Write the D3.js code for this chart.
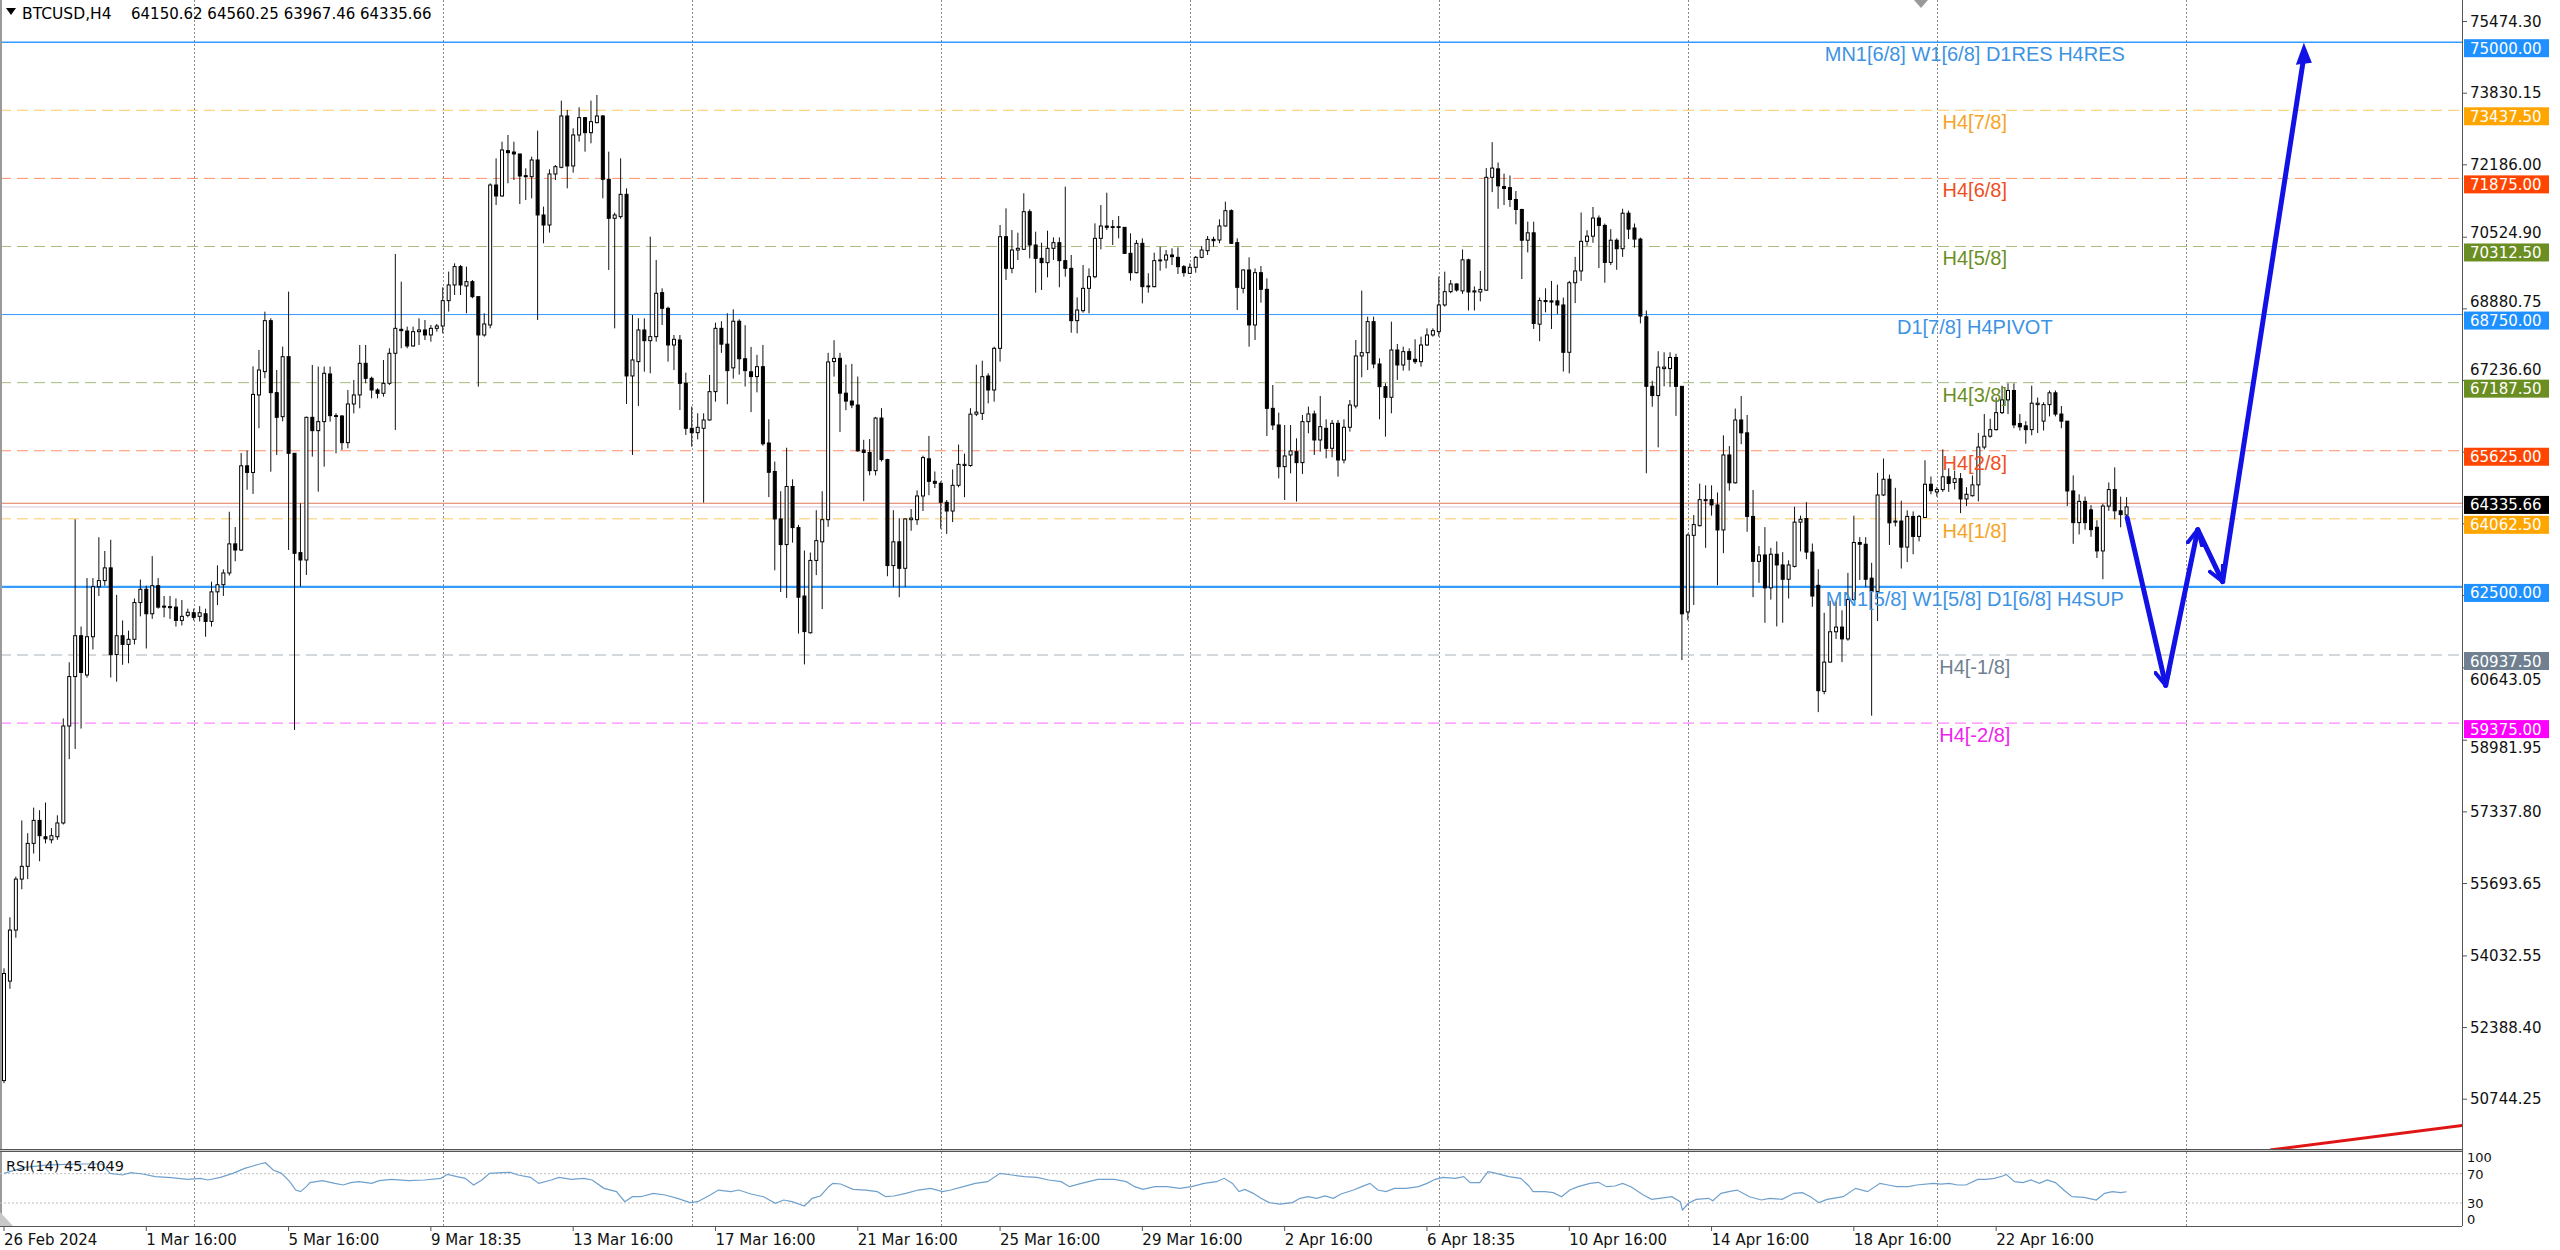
<!DOCTYPE html>
<html><head><meta charset="utf-8">
<script src="https://cdn.jsdelivr.net/npm/d3@7"></script>
<style>html,body{margin:0;padding:0;background:#fff;overflow:hidden}</style>
</head><body>
<svg id="c" width="2560" height="1250"></svg>
<script>
// ---------- DATA ----------
const symbolTitle = "BTCUSD,H4";
const headerValues = ["64150.62","64560.25","63967.46","64335.66"];
const opens = [
51171,53454,54625,55795,56088,56615,57142,56767,56697,56767,
57083,59308,60443,61380,60479,61357,62504,62645,62937,60947,
61380,61181,61298,62141,62446,61884,62528,62059,62024,62036,
61731,61848,61907,61825,61884,61708,62387,62551,62820,63488,
63347,65279,65127,66905,67440,68610,66958,66407,67784,65566,
63287,63118,66392,66086,66293,67387,66430,66422,65811,66698,
66905,67631,67287,67019,66943,67172,67861,68412,68373,68029,
68358,68396,68282,68434,68488,69069,69429,69850,69406,69505,
69161,68282,68511,71723,71471,72511,72480,72435,71937,71914,
72297,71035,70805,71976,72129,73307,72160,72871,73269,72924,
73154,73307,71854,70959,70997,71509,67341,67670,68396,68151,
68243,69253,68893,68052,68167,67172,66140,66040,66140,66331,
66981,68434,68071,67527,68597,67736,67436,67327,67554,65803,
65149,64060,63471,64805,63861,62291,61448,63108,63535,64043,
67672,67745,66946,66765,66674,65640,65585,65168,66375,65422,
62990,63535,62927,64043,64043,64587,65440,64923,64878,64442,
64242,64832,65286,65286,66465,66483,67340,67019,67975,70537,
69811,70231,70247,71111,70346,70040,69941,70270,70400,69987,
69811,68610,68839,69352,69619,70499,70782,70767,70751,70751,
70155,69711,70384,69390,69390,69987,70002,70117,70063,69849,
69696,69834,70063,70216,70476,70461,70783,71134,70400,69352,
69773,68511,69711,69329,66598,66216,65260,65528,65604,65352,
66293,66469,65872,66140,65681,66254,65413,66163,66652,67800,
67876,68587,67616,67096,66851,67937,67593,67899,67723,67669,
68052,68281,68358,68970,69276,69452,69293,70006,69268,69268,
69310,71899,72094,71687,71662,71390,71161,70456,70626,68529,
69072,69064,69064,68970,67884,69480,69751,70431,70549,70965,
70796,69947,70456,70261,71076,70736,70482,68699,67103,66891,
67510,67510,67765,67103,61925,63684,63905,64479,64503,64381,
63807,65528,64889,66331,66036,64118,63086,63233,62479,63250,
63004,62676,62971,63987,64069,63299,62537,60103,60775,61471,
61578,61307,62209,63520,63479,62701,62397,64610,64971,63987,
64012,63414,64118,63659,64094,64856,64680,64734,65027,64897,
64983,64518,64593,64842,65709,65958,66109,66499,66792,67008,
66250,66196,66109,66683,66304,66683,66954,66467,66304,64702,
63976,64463,64268,63868,63326,64355,64734,64247,64150.62];
const highs = [
53747,54917,55854,57142,56849,57435,57376,57552,56966,57259,
59483,60771,64050,61591,62703,62703,63640,63324,63581,62317,
61731,61497,62235,62668,62528,63207,62703,62293,62293,62235,
62200,62001,62001,62059,62001,62621,62996,62902,64225,63874,
65572,65630,67562,67937,68817,68664,67478,68014,69276,65566,
64419,66407,67593,67555,67555,67555,66484,66445,67019,67249,
68052,68052,67325,67058,67708,67976,70140,69505,68473,68473,
68664,68626,68511,68534,69375,69735,69926,69888,69850,69544,
69161,68779,71762,72335,72718,72871,72718,72435,72106,72374,
72970,71226,72083,72182,73659,73445,73024,73506,73269,73659,
73789,73330,72488,71089,72335,71647,68740,68664,68664,70538,
70003,69352,68932,68281,68281,67417,66637,66484,66484,67364,
68564,68597,68779,68870,68643,68507,68008,67826,68053,66347,
65376,64696,65694,64968,63925,63335,63290,64260,64696,67872,
68162,67872,67600,67618,67327,65876,65894,66402,66602,65440,
64260,64079,64079,64288,64714,65513,65966,65149,64923,64496,
65195,65767,65558,66602,67600,67692,67401,68013,70805,71187,
70690,70629,71532,71164,70652,70400,70675,70522,70522,71685,
70117,69145,69887,69811,70843,71264,71547,70920,71011,70751,
70614,70461,70499,69696,70170,70308,70231,70270,70292,69887,
69925,70094,70323,70553,70537,70936,71341,71165,70500,69788,
70063,69810,69864,69581,67133,66499,66216,66216,65910,66446,
66637,66545,66882,66346,66331,66331,66346,66790,68167,69299,
68702,68702,67746,67172,68587,68075,68014,67975,68182,68243,
68434,68434,69620,69735,69543,69467,70244,70032,69395,69751,
72111,72706,72239,71984,71942,71585,71178,70881,70881,69140,
69353,69522,69437,69140,69522,70074,71093,70685,71220,71025,
70838,70711,70499,71178,71135,70838,70515,68843,67230,67909,
67884,67884,67850,67103,63724,64151,64872,64831,64831,64667,
65979,65733,66593,66880,66446,64725,63438,63872,63397,63545,
63299,63110,64340,64135,64446,63495,62905,61906,62184,62168,
61963,62823,64135,63643,63643,63053,65118,65446,65077,64774,
64479,64258,64233,64151,65405,65036,64788,65655,65221,65167,
65113,64788,65059,66034,66467,66359,66846,67117,67171,67171,
66467,66304,67117,66846,66738,67008,67008,66651,66304,65059,
64626,64572,64377,64030,64409,64897,65243,64572,64560.25];
const lows = [
51112,53278,54449,55561,55795,56381,56205,56615,56615,56697,
57048,58547,58781,59249,60420,61064,62293,62528,60420,60326,
60713,60748,61181,61825,61087,61766,62001,61802,61766,61591,
61614,61802,61731,61708,61357,61591,62083,62293,62762,63090,
63324,64729,64635,66140,67287,65145,65528,66300,63348,59217,
62506,62774,65490,64686,65260,66293,65566,65643,65681,66484,
66599,67172,66828,66828,66866,67134,66102,67976,67976,68014,
68052,68167,68128,68358,68320,68817,69199,69199,68779,69123,
67096,68243,68434,71264,71456,71762,71838,71287,71379,71417,
68625,70385,70630,71838,72106,71647,72007,72718,72488,72680,
73139,71417,69773,68434,70950,66698,65528,66652,67440,67402,
68128,68511,67670,67478,66560,65987,65719,65887,64434,66316,
66752,67871,66692,67282,67373,67100,66511,66964,65739,64560,
62881,62382,62246,63516,61429,60722,61429,62772,61992,63879,
67327,66057,66556,66602,65603,64469,65059,65059,65377,62745,
62500,62264,62500,63789,63925,64242,64605,64769,63834,63716,
63988,64787,64560,65259,66420,66330,66713,66751,67669,69543,
69696,70002,70231,70040,69252,69313,69604,70002,69375,69619,
68334,68319,68793,68778,69581,70247,70690,70346,70499,70140,
69528,69696,69007,69252,69375,69757,69811,69887,69681,69619,
69681,69711,70040,70117,70308,70385,70767,70370,68855,69237,
68013,68166,69023,65963,66101,64992,64495,65107,64457,65092,
66025,65528,65604,65451,65474,65031,65337,66063,66598,67310,
67478,67516,66346,65948,66484,67249,67463,67463,67616,67555,
68029,68243,68243,68932,69238,69276,69225,68843,68843,69055,
69293,71560,71178,71263,71220,70821,69565,70176,68419,68139,
68801,68419,68758,67442,67400,69013,69522,70329,70397,69819,
69480,69887,69777,70074,70482,70286,68546,65108,66636,65702,
67103,67086,66424,60821,61738,62086,63889,63397,64135,62537,
63274,64708,64872,65774,63766,62266,62594,61676,62209,61594,
61676,62233,62946,63315,63135,62045,59627,60037,60759,61307,
60775,61266,62184,62660,62496,59545,61717,64585,63463,63889,
62922,63069,63250,63545,64094,64626,64572,64680,64680,64734,
64193,64355,64572,64463,65655,65925,66088,66467,66467,66142,
66088,65785,65979,66034,66088,66413,66413,66142,64355,63489,
63705,63814,63651,63164,62677,64247,64052,63868,63967.46];
const closes = [
53629,54625,55795,56088,56615,57142,56791,56720,56791,57083,
59308,60443,61380,60537,61357,62504,62645,62937,60947,61380,
61181,61298,62141,62446,61884,62528,62036,62036,62048,61731,
61825,61919,61802,61907,61708,62387,62551,62820,63488,63347,
65279,65127,66918,67478,68610,66958,66392,67784,65566,63271,
63118,66392,66086,66293,67402,66430,66415,65811,66698,66905,
67631,67287,67019,66943,67172,67861,68434,68381,68029,68358,
68396,68282,68434,68488,69069,69429,69850,69429,69505,69161,
68282,68534,71723,71471,72527,72465,72435,71930,71914,72297,
71035,70805,71976,72144,73307,72160,72871,73269,72924,73177,
73307,71854,70959,71035,71509,67341,67708,68396,68151,68243,
69238,68893,68052,68182,67172,66140,66040,66163,66331,66981,
68434,68071,67463,68597,67736,67463,67327,67554,65785,65131,
64060,63471,64805,63861,62264,61475,63108,63562,64043,67663,
67745,66946,66765,66674,65622,65585,65168,66375,65422,62990,
63535,62927,64060,64079,64587,65467,64923,64878,64442,64242,
64832,65313,65313,66465,66511,67325,67019,67975,70537,69811,
70231,70270,71111,70346,70040,69941,70270,70400,69987,69811,
68610,68854,69352,69619,70499,70782,70751,70751,70767,70155,
69711,70384,69390,69406,69987,70002,70117,70078,69849,69711,
69834,70063,70231,70476,70445,70783,71134,70385,69375,69773,
68511,69711,69329,66598,66216,65260,65505,65620,65352,66293,
66469,65872,66178,65681,66254,65413,66163,66675,67800,67876,
68587,67616,67096,66851,67937,67593,67899,67723,67669,68052,
68281,68381,68970,69276,69452,69314,70006,69268,69293,69327,
71899,72111,71704,71645,71390,71161,70456,70626,68546,69072,
69047,69038,68970,67884,69480,69751,70431,70549,70965,70796,
69947,70456,70261,71076,70711,70482,68716,67103,66891,67544,
67544,67765,67103,61882,63690,63930,64503,64503,64381,63807,
65528,64889,66331,66036,64118,63086,63233,62479,63250,63004,
62676,63004,63987,64053,63299,62291,60119,60775,61471,61578,
61307,62209,63520,63479,62676,62397,64610,64971,63971,64012,
63414,64118,63659,64118,64856,64708,64734,65027,64875,64983,
64518,64626,64842,65709,65958,66109,66499,66792,67008,66218,
66174,66109,66716,66716,66683,66954,66467,66304,64702,63976,
64463,63976,63814,63326,64355,64734,64247,64160,64335.66];

// Murrey-style levels
const levelPrices = [75000, 73437.5, 71875, 70312.5, 68750, 67187.5, 65625, 64062.5, 62500, 60937.5, 59375];
const levelNames = ["MN1[6/8] W1[6/8] D1RES H4RES","H4[7/8]","H4[6/8]","H4[5/8]","D1[7/8] H4PIVOT","H4[3/8]","H4[2/8]","H4[1/8]","MN1[5/8] W1[5/8] D1[6/8] H4SUP","H4[-1/8]","H4[-2/8]"];
const levelLabelBar = 332.4;
const bidPrice = 64335.66;
const askPrice = 64420;

// price axis tick labels
const priceTicks = [75474.30,73830.15,72186.00,70524.90,68880.75,67236.60,65592.45,63948.30,62304.15,60643.05,58981.95,57337.80,55693.65,54032.55,52388.40,50744.25];

// time axis
const timeLabelBars = [0,24,48,72,96,120,144,168,192,216,240,264,288,312,336];
const timeLabels = ["26 Feb 2024","1 Mar 16:00","5 Mar 16:00","9 Mar 18:35","13 Mar 16:00","17 Mar 16:00","21 Mar 16:00","25 Mar 16:00","29 Mar 16:00","2 Apr 16:00","6 Apr 18:35","10 Apr 16:00","14 Apr 16:00","18 Apr 16:00","22 Apr 16:00"];
const gridBars = [32,74,116,158,200,242,284,326,368];

// forecast arrow (bar index, price)
const arrowBars = [358.1, 364.6, 370.0, 374.2, 387.9];
const arrowPrices = [64082, 60241, 63813, 62622, 74990];

// red trendline (bar index, price)
const trendBars = [382.2, 414.6];
const trendPrices = [49579, 50139];

// RSI(14) readings
const rsiLast = "45.4049";
const rsiLevels = [70, 30];
const rsiAxisLabels = ["100","70","30","0"];
const rsiBars = [0,3.4,7.6,13.1,16.5,17.9,20,21.4,23.4,25.5,28.2,31,33.1,34.4,36.5,38.6,39.3,40.6,42,43.1,44.1,45.4,46.8,48.2,49.2,50,51,51.6,53.7,55.8,57.2,58.5,59.9,62,63.3,65.4,68.2,70.9,73.7,74.8,76.4,77.8,79.2,80.6,81.9,84,85.4,86.7,88.8,90.2,92.3,93.6,95.7,97.8,99.2,101.2,103.3,104.7,106,107.4,109.5,111.5,113.6,115.7,117,119.1,120.5,122.6,123.9,126,128.1,130.1,131.5,132.9,135,136.3,137.7,139.1,139.8,141.1,143.2,145.3,147.3,148.7,150.1,152.1,154.2,156.3,158.3,159.7,161.8,163.8,165.9,168,170,172.1,174.2,176.2,178.3,179.7,181.7,184.5,187.3,189.3,190.7,192.1,194.1,196.2,198.3,200.3,202.4,204.5,205.8,207.2,208.3,209.3,210.7,212,213.4,215.2,217.3,218.6,220,221.4,222.8,224.2,225.5,227.6,229,230.4,231.7,233.1,234.5,236.5,238.6,240,241.4,242.7,244.8,246.2,247.3,248.9,250.3,251.7,253.8,255.8,257.2,257.9,259.9,261.3,262.7,264.1,265.5,267.5,268.9,270.3,271.7,273,274.4,276.5,277.9,279.2,281.3,282.7,283.1,284.1,285.4,287.5,288.2,289.6,290.9,292.3,294.4,296.4,297.8,299.9,301.9,303.3,304.7,306.1,307.5,310.2,312.3,314.3,316.4,317.8,319.2,321.2,322.6,325.4,326.7,328.1,329.5,330.9,332.9,334.3,335.7,337.1,337.7,339.1,340.5,341.9,343.3,344.6,346,347.4,348.8,350.8,352.9,354.3,355.6,357,358];
const rsiValues = [70.5,78.7,81.9,83.2,83.2,70.5,68.2,71.4,69.6,66.0,64.6,62.3,63.7,61.4,65.0,70.5,72.8,77.3,80.5,83.2,85.0,75.0,70.5,59.1,47.7,45.5,52.3,57.8,60.5,56.8,54.6,57.8,59.1,56.8,60.5,62.3,60.5,61.4,63.7,69.1,66.0,63.7,54.6,61.4,70.5,71.4,71.8,68.2,65.0,56.8,61.4,65.0,62.3,63.7,61.4,50.0,45.5,31.8,38.6,38.6,43.2,40.9,36.4,30.5,31.8,40.9,47.7,45.5,47.7,42.3,38.6,29.5,34.1,31.8,25.9,36.4,39.6,52.3,56.8,55.9,48.6,47.7,45.5,38.6,39.6,43.2,47.7,50.0,45.5,47.7,52.3,56.8,59.1,70.5,68.2,66.0,65.0,61.4,59.1,52.3,56.8,62.3,62.3,59.1,52.3,48.6,52.3,52.3,50.0,52.3,56.8,59.1,63.7,56.8,45.5,48.6,43.2,36.4,30.5,28.6,30.5,36.4,38.6,36.4,39.6,36.4,42.3,47.7,52.3,56.8,47.7,45.5,50.0,50.0,52.3,56.8,62.3,65.0,63.7,66.0,57.8,57.8,72.8,70.5,66.0,63.7,53.2,45.5,45.5,44.1,38.6,47.7,52.3,56.8,58.2,52.3,53.2,56.8,52.3,40.9,35.0,36.4,38.6,31.8,20.5,29.6,35.0,36.4,33.2,43.2,45.5,47.7,38.6,34.1,36.4,35.0,43.2,44.1,38.6,30.5,35.0,38.6,50.0,45.5,56.8,54.6,52.3,52.3,54.6,56.8,55.9,56.8,54.6,54.6,62.3,62.3,63.7,66.8,69.1,59.1,57.8,61.4,56.8,61.4,57.8,47.7,38.6,37.7,34.1,43.2,45.5,44.1,45.4];

// ---------- STYLE / LAYOUT ----------
const W = 2560, H = 1250;
const PL = 0, PR = 2462, PT = 0, PB = 1149;
const RT = 1152, RB = 1226;
const FONT = "'DejaVu Sans', Verdana, sans-serif";
const LFONT = "'Liberation Sans', Arial, sans-serif";
const levelStyle = [
  {c:"#1E90FF", t:"#3D93E3", w:1.6, dash:null},
  {c:"#FFA500", t:"#F5A425", w:1, dash:"11,6"},
  {c:"#FF4500", t:"#F04E1E", w:1, dash:"11,6"},
  {c:"#6B8E23", t:"#6B8E23", w:1, dash:"11,6"},
  {c:"#1E90FF", t:"#3D93E3", w:1, dash:null},
  {c:"#6B8E23", t:"#6B8E23", w:1, dash:"11,6"},
  {c:"#FF4500", t:"#F04E1E", w:1, dash:"11,6"},
  {c:"#FFA500", t:"#F5A425", w:1, dash:"11,6"},
  {c:"#1E90FF", t:"#3D93E3", w:2.2, dash:null},
  {c:"#708090", t:"#708090", w:1, dash:"11,6"},
  {c:"#FF00FF", t:"#EE22EE", w:1, dash:"11,6"}
];

const x = d3.scaleLinear().domain([0, 358]).range([4, 4 + 358 * 5.929]);
const y = d3.scaleLinear().domain([59375, 75000]).range([723.1, 42.2]);
const yr = d3.scaleLinear().domain([0, 100]).range([1225, 1151.7]);

const svg = d3.select('#c');
svg.append('rect').attr('width', W).attr('height', H).attr('fill', '#fff');
const defs = svg.append('defs');
defs.append('clipPath').attr('id', 'clipMain').append('rect').attr('x', PL).attr('y', PT).attr('width', PR - PL).attr('height', PB - PT);
defs.append('clipPath').attr('id', 'clipRsi').append('rect').attr('x', PL).attr('y', RT).attr('width', PR - PL).attr('height', RB - RT);

// grid
const grid = svg.append('g');
gridBars.forEach(b => {
  const gx = Math.round(x(b)) + 0.5;
  grid.append('line').attr('x1', gx).attr('x2', gx).attr('y1', PT).attr('y2', PB)
    .attr('stroke', '#8a8a8a').attr('stroke-width', 1).attr('stroke-dasharray', '2,2');
  grid.append('line').attr('x1', gx).attr('x2', gx).attr('y1', RT).attr('y2', RB)
    .attr('stroke', '#8a8a8a').attr('stroke-width', 1).attr('stroke-dasharray', '2,2');
});

// level lines
const main = svg.append('g').attr('clip-path', 'url(#clipMain)');
levelPrices.forEach((p, i) => {
  const s = levelStyle[i];
  main.append('line').attr('x1', PL).attr('x2', PR).attr('y1', y(p)).attr('y2', y(p))
    .attr('stroke', s.c).attr('stroke-width', s.w).attr('stroke-opacity', s.dash ? 0.6 : 0.9)
    .attr('stroke-dasharray', s.dash);
});
// ask / bid lines
main.append('line').attr('x1', PL).attr('x2', PR).attr('y1', y(askPrice)).attr('y2', y(askPrice))
  .attr('stroke', '#E07A55').attr('stroke-width', 1);
main.append('line').attr('x1', PL).attr('x2', PR).attr('y1', y(bidPrice)).attr('y2', y(bidPrice))
  .attr('stroke', '#D9C6DD').attr('stroke-width', 1);

// candles
const cg = main.append('g');
const n = Math.min(opens.length, highs.length, lows.length, closes.length);
for (let i = 0; i < n; i++) {
  const cx = x(i);
  const o = opens[i], h = highs[i], l = lows[i], c = closes[i];
  cg.append('line').attr('x1', cx).attr('x2', cx).attr('y1', y(h)).attr('y2', y(l))
    .attr('stroke', '#111').attr('stroke-width', 1);
  const top = y(Math.max(o, c)), bot = y(Math.min(o, c));
  const bull = c >= o;
  cg.append('rect').attr('x', cx - 1.5).attr('width', 3)
    .attr('y', top).attr('height', Math.max(bot - top, 0.8))
    .attr('fill', bull ? '#fff' : '#000').attr('stroke', '#000').attr('stroke-width', 1);
}

// level labels
const lx = x(levelLabelBar);
levelPrices.forEach((p, i) => {
  main.append('text').attr('x', lx).attr('y', y(p) + 19).attr('text-anchor', 'middle')
    .attr('font-family', LFONT).attr('font-size', 20).attr('fill', levelStyle[i].t)
    .text(levelNames[i]);
});

// red trendline
main.append('line').attr('x1', x(trendBars[0])).attr('y1', y(trendPrices[0]))
  .attr('x2', x(trendBars[1])).attr('y2', y(trendPrices[1]))
  .attr('stroke', '#E01515').attr('stroke-width', 3);

// forecast arrow
const AC = '#1212E6';
defs.append('marker').attr('id', 'chev').attr('viewBox', '0 0 10 10').attr('refX', 9).attr('refY', 5)
  .attr('markerUnits', 'userSpaceOnUse').attr('markerWidth', 18).attr('markerHeight', 18).attr('orient', 'auto')
  .append('path').attr('d', 'M0,0.5 L9,5 L0,9.5').attr('fill', 'none').attr('stroke', AC).attr('stroke-width', 2.2);
const ag = main.append('g');
for (let k = 0; k < arrowBars.length - 1; k++) {
  const last = k === arrowBars.length - 2;
  ag.append('line')
    .attr('x1', x(arrowBars[k])).attr('y1', y(arrowPrices[k]))
    .attr('x2', x(arrowBars[k + 1])).attr('y2', y(arrowPrices[k + 1]) + (last ? 14 : 0))
    .attr('stroke', AC).attr('stroke-width', 5).attr('stroke-linecap', 'round')
    .attr('marker-end', last ? null : 'url(#chev)');
}
{
  const tx = x(arrowBars[arrowBars.length - 1]), ty = y(arrowPrices[arrowPrices.length - 1]);
  ag.append('path').attr('d', `M${tx},${ty} L${tx - 8},${ty + 22} L${tx + 8},${ty + 20} Z`).attr('fill', AC);
}

// chart shift marker
svg.append('path').attr('d', 'M1914,0 L1928,0 L1921,8 Z').attr('fill', '#9a9a9a');

// header
svg.append('path').attr('d', 'M6,8 L16,8 L11,15 Z').attr('fill', '#000');
svg.append('text').attr('x', 22).attr('y', 19).attr('font-family', FONT).attr('font-size', 15.5).attr('fill', '#000')
  .text(symbolTitle);
svg.append('text').attr('x', 131).attr('y', 19).attr('font-family', FONT).attr('font-size', 15).attr('fill', '#000')
  .text(headerValues.join(' '));

// frame
svg.append('rect').attr('x', 0).attr('y', 0).attr('width', 2).attr('height', RB).attr('fill', '#9a9a9a');
svg.append('rect').attr('x', 0).attr('y', PB).attr('width', PR + 1).attr('height', RT - PB).attr('fill', '#c8c8c8');
svg.append('line').attr('x1', 0).attr('x2', PR).attr('y1', PB + 0.5).attr('y2', PB + 0.5).attr('stroke', '#555');
svg.append('line').attr('x1', 0).attr('x2', PR).attr('y1', RT - 0.5).attr('y2', RT - 0.5).attr('stroke', '#555');
svg.append('line').attr('x1', 0).attr('x2', PR).attr('y1', RB + 0.5).attr('y2', RB + 0.5).attr('stroke', '#555');
svg.append('line').attr('x1', PR + 0.5).attr('x2', PR + 0.5).attr('y1', 0).attr('y2', RB).attr('stroke', '#555');

// price axis: boxes take priority, tick labels hidden behind a box are skipped, partly covered ones nudged clear
const ax = svg.append('g');
const boxes = levelPrices.map(p => ({top: y(p) - 3, bot: y(p) + 15}));
boxes.push({top: y(bidPrice) - 11, bot: y(bidPrice) + 7});
priceTicks.forEach(v => {
  let ty = y(v);
  ax.append('line').attr('x1', PR).attr('x2', PR + 5).attr('y1', ty).attr('y2', ty).attr('stroke', '#555');
  let skip = false;
  boxes.forEach(b => {
    const bc = (b.top + b.bot) / 2;
    if (ty - 9 < b.bot && ty + 9 > b.top) {
      if (Math.abs(ty - bc) < 6.5) skip = true;
      else if (ty < bc) ty = b.top - 10;
      else ty = b.bot + 10;
    }
  });
  if (skip) return;
  ax.append('text').attr('x', 2470).attr('y', ty + 5).attr('font-family', FONT).attr('font-size', 15).attr('fill', '#111')
    .text(v.toFixed(2));
});
levelPrices.forEach((p, i) => {
  const ty = y(p);
  ax.append('rect').attr('x', 2464).attr('y', ty - 3).attr('width', 85).attr('height', 18).attr('fill', levelStyle[i].c);
  ax.append('text').attr('x', 2470).attr('y', ty + 11.5).attr('font-family', FONT).attr('font-size', 15).attr('fill', '#fff')
    .text(p.toFixed(2));
});
{
  const ty = y(bidPrice);
  ax.append('rect').attr('x', 2464).attr('y', ty - 11).attr('width', 85).attr('height', 18).attr('fill', '#000');
  ax.append('text').attr('x', 2470).attr('y', ty + 3.5).attr('font-family', FONT).attr('font-size', 15).attr('fill', '#fff')
    .text(bidPrice.toFixed(2));
}

// RSI panel
const rg = svg.append('g').attr('clip-path', 'url(#clipRsi)');
rsiLevels.forEach(v => {
  rg.append('line').attr('x1', PL).attr('x2', PR).attr('y1', yr(v)).attr('y2', yr(v))
    .attr('stroke', '#bdbdbd').attr('stroke-dasharray', '2,2');
});
const m = Math.min(rsiBars.length, rsiValues.length);
const rsiPts = d3.range(m).map(k => [rsiBars[k], rsiValues[k]]);
rg.append('path').attr('d', d3.line().x(d => x(d[0])).y(d => yr(d[1]))(rsiPts))
  .attr('fill', 'none').attr('stroke', '#6FA0CC').attr('stroke-width', 1.2);
svg.append('text').attr('x', 6).attr('y', 1171).attr('font-family', FONT).attr('font-size', 14.5).attr('fill', '#111')
  .text('RSI(14) ' + rsiLast);
svg.append('path').attr('d', `M0,1212 L0,${RB} L13,${RB} Z`).attr('fill', '#c8c8c8');
const rsiLabelY = [1162, 1179, 1208, 1224];
rsiAxisLabels.forEach((t, k) => {
  svg.append('text').attr('x', 2467).attr('y', rsiLabelY[k]).attr('font-family', FONT).attr('font-size', 13).attr('fill', '#111').text(t);
});

// time axis
timeLabelBars.forEach((b, k) => {
  const tx = x(b);
  svg.append('line').attr('x1', tx).attr('x2', tx).attr('y1', RB).attr('y2', RB + 5).attr('stroke', '#555');
  svg.append('text').attr('x', tx).attr('y', 1245).attr('font-family', FONT).attr('font-size', 15).attr('fill', '#111')
    .text(timeLabels[k]);
});
</script>
</body></html>
